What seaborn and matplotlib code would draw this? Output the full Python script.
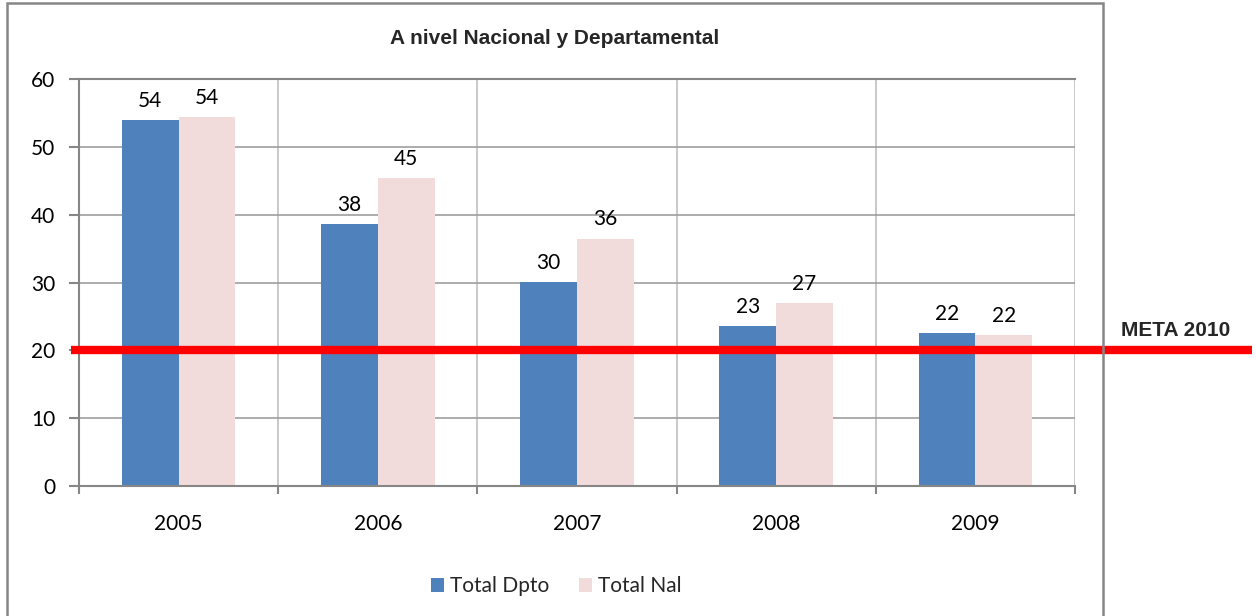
import matplotlib
matplotlib.use("Agg")
import matplotlib.pyplot as plt
import seaborn as sns
import pandas as pd
import numpy as np
from matplotlib.patches import Rectangle, Patch

years = ["2005", "2006", "2007", "2008", "2009"]
total_dpto = [54.0, 38.6, 30.1, 23.6, 22.6]
total_nal = [54.4, 45.4, 36.5, 27.0, 22.3]
labels_dpto = ["54", "38", "30", "23", "22"]
labels_nal = ["54", "45", "36", "27", "22"]
series = ["Total Dpto", "Total Nal"]
colors = ["#4F81BD", "#F2DCDB"]
meta_value = 20
meta_label = "META 2010"
title = "A nivel Nacional y Departamental"
y_ticks = [0, 10, 20, 30, 40, 50, 60]

df = pd.DataFrame({
    "year": years * 2,
    "value": total_dpto + total_nal,
    "series": [series[0]] * len(years) + [series[1]] * len(years),
})

sns.set_theme(style="white")
plt.rcParams["font.family"] = ["Lato", "DejaVu Sans"]

fig = plt.figure(figsize=(12.56, 6.16), dpi=100)
ax = fig.add_axes([0.0629, 0.211, 0.793, 0.6605])

sns.barplot(data=df, x="year", y="value", hue="series", hue_order=series,
            palette=colors, width=0.57, saturation=1, ax=ax, legend=False,
            errorbar=None, linewidth=0, edgecolor="none")

ax.set_xlim(-0.5, len(years) - 0.5)
ax.set_ylim(0, 60)
ax.set_yticks(y_ticks)
ax.set_xlabel("")
ax.set_ylabel("")

ax.set_xticks(np.arange(-0.5, len(years)), minor=True)
ax.set_axisbelow(True)
ax.grid(True, which="major", axis="y", color="#9E9E9E", linewidth=1.2)
ax.grid(True, which="minor", axis="x", color="#C0C0C0", linewidth=1.2)
ax.grid(False, which="major", axis="x")

for s in ["left", "bottom", "top"]:
    ax.spines[s].set_visible(True)
    ax.spines[s].set_color("#868686")
    ax.spines[s].set_linewidth(1.5)
ax.spines["right"].set_visible(False)

ax.tick_params(axis="x", which="major", length=0, pad=20, labelsize=15, colors="black")
ax.tick_params(axis="x", which="minor", length=6, width=1.5, color="#868686", direction="out", bottom=True)
ax.tick_params(axis="y", which="major", length=7, width=1.5, color="#868686", direction="out",
               left=True, pad=10, labelsize=15, labelcolor="black")

for cont, labs in zip(ax.containers, [labels_dpto, labels_nal]):
    ax.bar_label(cont, labels=labs, padding=6.5, fontsize=15, color="black")

meta = ax.axhline(meta_value, xmin=-0.008, xmax=1.178, color="#FF0000", linewidth=6,
                  clip_on=False, zorder=5)
meta.set_solid_capstyle("butt")
ax.text(1.046, meta_value + 3, meta_label, transform=ax.get_yaxis_transform(),
        fontsize=15, fontweight="bold", family="Liberation Sans", ha="left", va="center")

fig.text(0.4415, 0.938, title, fontsize=15, fontweight="bold", family="Liberation Sans",
         ha="center", va="center")

fig.patches.append(Rectangle((0.0056, -0.02), 0.8726, 1.015, transform=fig.transFigure,
                             fill=False, edgecolor="#868686", linewidth=1.8, clip_on=False))

handles = [Patch(facecolor=c, edgecolor="none") for c in colors]
fig.legend(handles, series, loc="center", bbox_to_anchor=(0.443, 0.048), ncol=2,
           frameon=False, fontsize=15, handlelength=0.6, handleheight=0.6,
           handletextpad=0.3, columnspacing=1.45)

fig.savefig("out.png", dpi=100)
